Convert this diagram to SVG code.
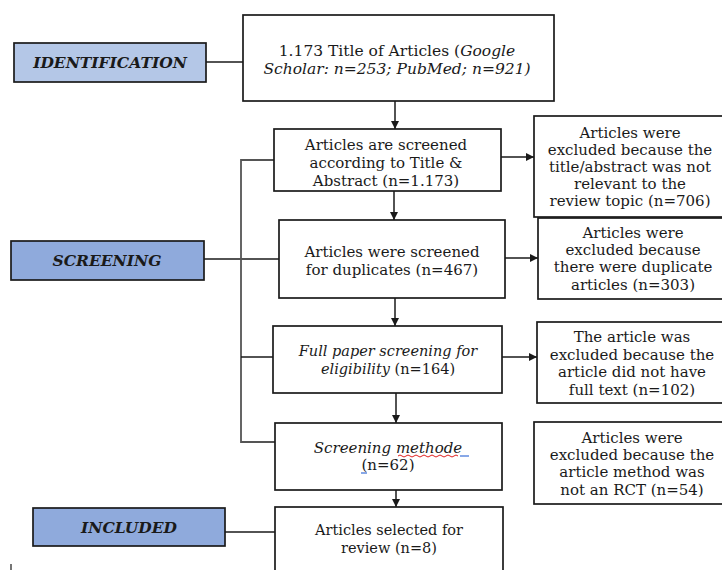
<svg xmlns="http://www.w3.org/2000/svg" width="722" height="570" viewBox="0 0 722 570">
<style>
.box{fill:#fff;stroke:#1a1a1a;stroke-width:1.7}
.lbl1{fill:#b4c7e7;stroke:#1a1a1a;stroke-width:1.7}
.lbl2{fill:#8faadc;stroke:#1a1a1a;stroke-width:1.7}
.t{font-family:"DejaVu Serif","Liberation Serif",serif;font-size:15px;fill:#1a1a1a;text-anchor:middle}
.ti{font-size:15.5px}
.sm{font-size:14.5px}
.it{font-style:italic}
.lt{font-family:"DejaVu Serif","Liberation Serif",serif;font-size:15.5px;font-weight:bold;font-style:italic;fill:#1a1a1a;text-anchor:middle}
.ln{stroke:#1a1a1a;stroke-width:1.5;fill:none}
.gl{stroke:#555;stroke-width:1.8;fill:none}
</style>
<defs>
<marker id="ah" markerWidth="10" markerHeight="10" refX="8" refY="4.5" orient="auto" markerUnits="userSpaceOnUse">
<path d="M0,0.5 L8,4.5 L0,8.5 Z" fill="#1a1a1a"/>
</marker>
</defs>
<g id="connectors">
<line class="ln" x1="206" y1="62" x2="243" y2="62"/>
<line class="ln" x1="395" y1="101" x2="395" y2="129" marker-end="url(#ah)"/>
<line class="ln" x1="501" y1="157" x2="534" y2="157" marker-end="url(#ah)"/>
<line class="ln" x1="394" y1="191" x2="394" y2="220" marker-end="url(#ah)"/>
<line class="ln" x1="505" y1="258" x2="538" y2="258" marker-end="url(#ah)"/>
<line class="ln" x1="395" y1="298" x2="395" y2="326" marker-end="url(#ah)"/>
<line class="ln" x1="502" y1="357" x2="537" y2="357" marker-end="url(#ah)"/>
<line class="ln" x1="396" y1="393" x2="396" y2="423" marker-end="url(#ah)"/>
<line class="ln" x1="396" y1="490" x2="396" y2="507" marker-end="url(#ah)"/>
<line class="ln" x1="204" y1="259" x2="279" y2="259"/>
<polyline class="gl" points="274,160 241,160 241,442 275,442"/>
<line class="ln" x1="241" y1="357" x2="273" y2="357"/>
<line class="ln" x1="225" y1="532" x2="275" y2="532"/>
</g>
<g id="identification">
<rect class="lbl1" x="14" y="43" width="192" height="39"/>
<text class="lt" x="110" y="68">IDENTIFICATION</text>
</g>
<g id="screening">
<rect class="lbl2" x="11" y="241" width="193" height="39"/>
<text class="lt" x="107" y="266">SCREENING</text>
</g>
<g id="included">
<rect class="lbl2" x="33" y="508" width="192" height="38"/>
<text class="lt" x="129" y="533">INCLUDED</text>
</g>
<g id="title">
<rect class="box" x="243" y="15" width="311" height="86"/>
<text class="t ti" x="397" y="56">1.173 Title of Articles (<tspan class="it">Google</tspan></text>
<text class="t ti it" x="397" y="74">Scholar: n=253; PubMed; n=921)</text>
</g>
<g id="screen1">
<rect class="box" x="274" y="129" width="227" height="62"/>
<text class="t" x="386" y="150">Articles are screened</text>
<text class="t" x="386" y="168">according to Title &amp;</text>
<text class="t" x="386" y="186">Abstract (n=1.173)</text>
</g>
<g id="excl1">
<rect class="box" x="534" y="116" width="194" height="101"/>
<text class="t" x="630" y="138">Articles were</text>
<text class="t" x="630" y="155">excluded because the</text>
<text class="t" x="630" y="172">title/abstract was not</text>
<text class="t" x="630" y="189">relevant to the</text>
<text class="t" x="630" y="206">review topic (n=706)</text>
</g>
<g id="screen2">
<rect class="box" x="279" y="220" width="226" height="78"/>
<text class="t" x="392" y="257">Articles were screened</text>
<text class="t" x="392" y="275">for duplicates (n=467)</text>
</g>
<g id="excl2">
<rect class="box" x="538" y="218" width="190" height="81"/>
<text class="t" x="633" y="238">Articles were</text>
<text class="t" x="633" y="255">excluded because</text>
<text class="t" x="633" y="272">there were duplicate</text>
<text class="t" x="633" y="290">articles (n=303)</text>
</g>
<g id="screen3">
<rect class="box" x="273" y="326" width="229" height="67"/>
<text class="t sm it" x="388" y="356">Full paper screening for</text>
<text class="t sm" x="388" y="374"><tspan class="it">eligibility</tspan> (n=164)</text>
</g>
<g id="excl3">
<rect class="box" x="537" y="322" width="191" height="81"/>
<text class="t" x="632" y="342">The article was</text>
<text class="t" x="632" y="360">excluded because the</text>
<text class="t" x="632" y="377">article did not have</text>
<text class="t" x="632" y="395">full text (n=102)</text>
</g>
<g id="screen4">
<rect class="box" x="275" y="423" width="227" height="67"/>
<text class="t it" x="388" y="453">Screening methode</text>
<text class="t" x="388" y="470">(n=62)</text>
<path d="M398,456 q2,-2 4,0 t4,0 t4,0 t4,0 t4,0 t4,0 t4,0 t4,0 t4,0 t4,0 t4,0 t4,0 t4,0 t4,0 t4,0" stroke="#e02020" stroke-width="1" fill="none"/>
<line x1="460" y1="456" x2="469" y2="456" stroke="#3a6fd8" stroke-width="1.2"/>
<line x1="361" y1="473" x2="367" y2="473" stroke="#3a6fd8" stroke-width="1.2"/>
</g>
<g id="excl4">
<rect class="box" x="534" y="422" width="194" height="82"/>
<text class="t" x="632" y="443">Articles were</text>
<text class="t" x="632" y="460">excluded because the</text>
<text class="t" x="632" y="477">article method was</text>
<text class="t" x="632" y="495">not an RCT (n=54)</text>
</g>
<g id="final">
<rect class="box" x="275" y="507" width="228" height="75"/>
<text class="t sm" x="389" y="535">Articles selected for</text>
<text class="t sm" x="389" y="553">review (n=8)</text>
</g>
<line x1="11" y1="564" x2="11" y2="570" stroke="#1a1a1a" stroke-width="1.2"/>
</svg>
